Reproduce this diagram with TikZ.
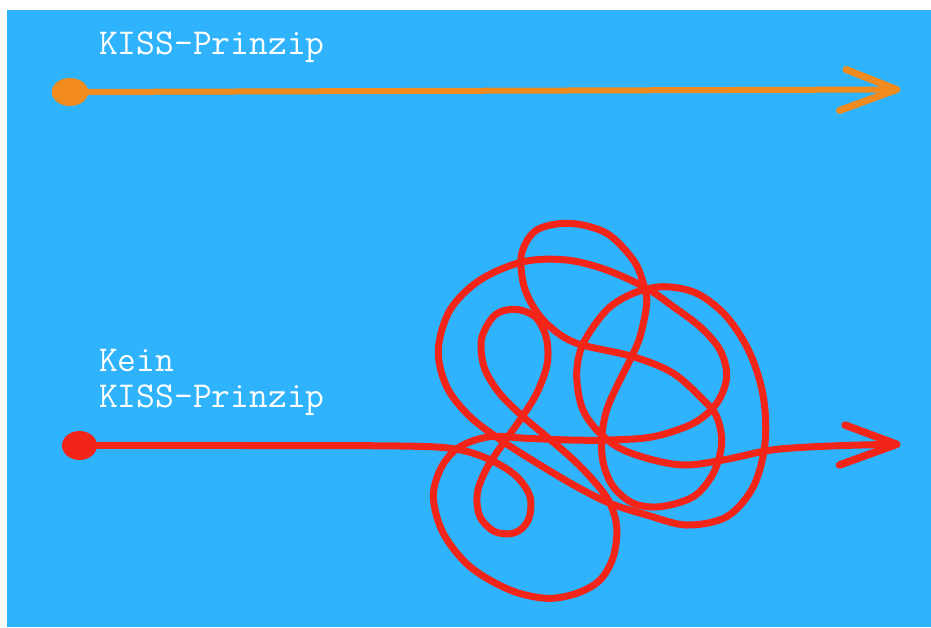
\documentclass[tikz,border=0pt]{standalone}
\usepackage{fontspec}
\usetikzlibrary{shapes.geometric}
\definecolor{sky}{RGB}{46,179,252}
\definecolor{kissorange}{RGB}{242,139,29}
\definecolor{tanglered}{RGB}{243,36,24}
\tikzset{
  label text/.style={text=white,
    font=\ttfamily\addfontfeature{FakeBold=0.7}\fontsize{36.5}{38}\selectfont,
    inner sep=0pt, anchor=base west},
  startdot/.style={ellipse, inner sep=0pt},
  orangeline/.style={draw=kissorange, line width=6pt, line cap=round, line join=round},
  redline/.style={draw=tanglered, line width=7pt, line cap=round, line join=round},
}
\begin{document}
\begin{tikzpicture}[x=1pt, y=-1pt]
  \useasboundingbox (0,0) rectangle (931,627);
  \fill[white] (0,0) rectangle (931,627);
  \fill[sky] (7,10) rectangle (931,627);

  % simple way: straight arrow
  \node[label text] (kisstop) at (99,54) {KISS-Prinzip};
  \node[startdot, fill=kissorange, minimum width=36.6pt, minimum height=28pt] (odot) at (70,92) {};
  \coordinate (otip) at (896.7,89.5);
  \coordinate (obarbU) at (846,69.5);
  \coordinate (obarbL) at (839.5,110.5);
  \draw[orangeline] (odot.center) -- (otip);
  \draw[orangeline, line width=7pt] (obarbU) -- (otip) -- (obarbL);

  % tangled way
  \node[label text] (kein) at (99,371) {Kein};
  \node[label text] (kissbot) at (99,407) {KISS-Prinzip};
  \node[startdot, fill=tanglered, minimum width=35pt, minimum height=29pt] (rdot) at (79.5,445.5) {};
  \coordinate (rtip) at (896.7,444.3);
  \coordinate (rbarbU) at (845,425);
  \coordinate (rbarbL) at (839.5,465);

  \draw[redline] plot[smooth, tension=0.55] coordinates {
    (rdot.center) (250,445.5) (400,446) (453.3,448.7) (486.7,458.3) (515,475)
    (530,496.7) (528.3,520) (515,532.7) (495,531.7) (480,516.7) (477.3,493.3)
    (486.7,468.3) (503.3,443.3) (520,420) (536.7,393.3) (547.3,363.3)
    (546,336.7) (535,316.7) (515,309.3) (495,315) (481.7,338.3) (484,366.7)
    (498.3,391.7) (520,414) (546.7,436.7) (570,456.7) (590,476.7) (608.3,500)
    (616.7,526.7) (613.3,556.7) (600,580) (576.7,593.3) (546.7,598.3)
    (510,590) (470,566.7) (443.3,533.3) (433.3,496.7) (441.7,466.7)
    (460,446.7) (490,436.7) (526.7,438.3) (570,440) (610,440) (653.3,436.7)
    (693.3,423.3) (716.7,403.3) (726.7,376.7) (720,350) (700,326.7)
    (673.3,306.7) (646.7,288.3) (606.7,270) (566.7,260) (523.3,261.7)
    (480,280) (450,310) (438.3,350) (446.7,386.7) (470,416.7) (503.3,441.7)
    (540,465) (576.7,486.7) (610,503.3) (646.7,515) (686.7,525) (726.7,516.7)
    (753.3,486.7) (765,443.3) (763.3,396.7) (750,353.3) (726.7,316.7)
    (696.7,293.3) (663.3,286.7) (633.3,293.3) (606.7,310) (583.3,343.3)
    (576.7,373.3) (581.7,406.7) (596.7,430) (620,448.3) (653.3,460)
    (686.7,465) (726.7,459.3) (766.7,450.7) (800,447.5) (850,445.3) (rtip)
  };
  % the closed inner loop of the tangle
  \draw[redline] plot[smooth cycle, tension=0.55] coordinates {
    (601.7,436.7) (603.3,463.3) (613.3,486.7) (633.3,503.3) (660,506.7)
    (693.3,496.7) (713.3,473.3) (721.7,443.3) (716.7,416.7) (703.3,400)
    (673.3,373.3) (633.3,356.7) (576.7,343.3) (550,326.7) (533.3,306.7)
    (523.3,283.3) (521.7,253.3) (536.7,230) (570,223.3) (606.7,233.3)
    (633.3,260) (643.3,283.3) (646.7,303.3) (640,336.7) (630,360)
    (616.7,386.7) (606.7,410)
  };
  \draw[redline, line width=7.5pt] (rbarbU) -- (rtip) -- (rbarbL);
\end{tikzpicture}
\end{document}
